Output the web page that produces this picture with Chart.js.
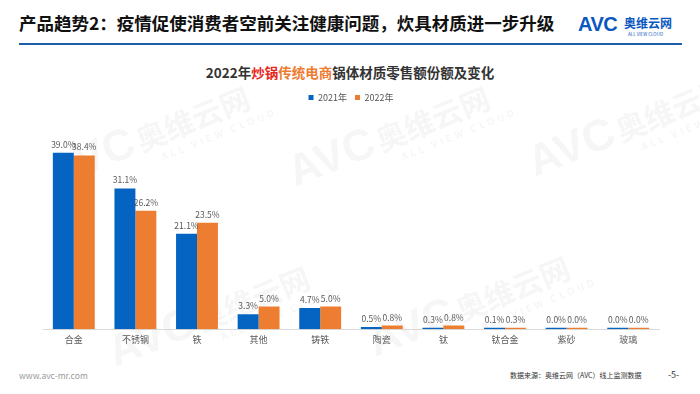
<!DOCTYPE html>
<html>
<head>
<meta charset="utf-8">
<script src="https://cdn.jsdelivr.net/npm/chart.js@4.4.0/dist/chart.umd.min.js"></script>
<style>
  body { margin: 0; background: #fff; font-family: "Noto Sans CJK SC", "Noto Sans", sans-serif; }
  #page { position: relative; width: 700px; height: 394px; overflow: hidden; background: #fff; }
  #head { position: absolute; left: 19px; top: 10px; font-size: 17.5px; font-weight: bold; color: #111; }
  #rule { position: absolute; left: 19px; top: 43px; width: 663px; height: 2px; background: #1F5FA9; }
  #logo { position: absolute; left: 578px; top: 12px; }
  #logo .avc { font: bold 20px "Liberation Sans", sans-serif; color: #0B57C0; letter-spacing: -0.5px; }
  #logo .cn { position: absolute; left: 46px; top: 2px; font-size: 12px; font-weight: bold; color: #0B57C0; white-space: nowrap; }
  #logo .en { position: absolute; left: 50px; top: 19px; font-size: 4.5px; color: #0B57C0; white-space: nowrap; }
  #title { position: absolute; left: 0; width: 700px; top: 62px; text-align: center; font-size: 13.5px; font-weight: bold; color: #333; }
  #title .r { color: #E8261C; }
  #title .o { color: #EE7B30; }
  #chartBox { position: absolute; left: 0; top: 85px; width: 700px; height: 265px; }
  #url { position: absolute; left: 19px; top: 369px; font-size: 8.5px; color: #999; }
  #src { position: absolute; left: 510px; top: 370px; font-size: 7px; color: #333; }
  #pg { position: absolute; left: 668px; top: 368px; font-size: 9px; color: #333; }
  .wm { position: absolute; transform: rotate(-22deg); transform-origin: left top; color: rgba(120,120,120,0.08); white-space: nowrap; pointer-events: none; }
  .wm .big { font: bold 44px "Liberation Sans", sans-serif; }
  .wm .cn { font-size: 30px; font-weight: bold; }
  .wm .en { font-size: 10px; font-weight: bold; letter-spacing: 3px; display: block; margin-left: 110px; margin-top: -6px; }
</style>
</head>
<body>
<div id="page">
  <div id="head">产品趋势2：疫情促使消费者空前关注健康问题，炊具材质进一步升级</div>
  <div id="rule"></div>
  <div id="logo"><span class="avc">AVC</span><span class="cn">奥维云网</span><span class="en">ALL VIEW CLOUD</span></div>
  <div id="title">2022年<span class="r">炒锅</span><span class="o">传统电商</span>锅体材质零售额份额及变化</div>

  <div class="wm" style="left:40px; top:150px;"><span class="big">AVC</span> <span class="cn">奥维云网</span><span class="en">ALL VIEW CLOUD</span></div>
  <div class="wm" style="left:280px; top:150px;"><span class="big">AVC</span> <span class="cn">奥维云网</span><span class="en">ALL VIEW CLOUD</span></div>
  <div class="wm" style="left:520px; top:140px;"><span class="big">AVC</span> <span class="cn">奥维云网</span><span class="en">ALL VIEW CLOUD</span></div>
  <div class="wm" style="left:100px; top:330px;"><span class="big">AVC</span> <span class="cn">奥维云网</span><span class="en">ALL VIEW CLOUD</span></div>
  <div class="wm" style="left:360px; top:320px;"><span class="big">AVC</span> <span class="cn">奥维云网</span><span class="en">ALL VIEW CLOUD</span></div>

  <div id="chartBox"><canvas id="barChart"></canvas></div>

  <div id="url">www.avc-mr.com</div>
  <div id="src">数据来源：奥维云网（AVC）线上监测数据</div>
  <div id="pg">-5-</div>
</div>
<script>
// Categories and shares (%)
const materials = ['合金', '不锈钢', '铁', '其他', '铸铁', '陶瓷', '钛', '钛合金', '紫砂', '玻璃'];
const share2021 = [39.0, 31.1, 21.1, 3.3, 4.7, 0.5, 0.3, 0.1, 0.0, 0.0];
const share2022 = [38.4, 26.2, 23.5, 5.0, 5.0, 0.8, 0.8, 0.3, 0.0, 0.0];
const seriesNames = ['2021年', '2022年'];

// Draw the value above every bar
const valueLabels = {
    id: 'valueLabels',
    afterDatasetsDraw(chart) {
        const ctx = chart.ctx;
        ctx.save();
        ctx.font = '8.5px "Noto Sans CJK SC", sans-serif';
        ctx.fillStyle = '#595959';
        ctx.textAlign = 'center';
        ctx.textBaseline = 'bottom';
        chart.data.datasets.forEach((ds, i) => {
            chart.getDatasetMeta(i).data.forEach((bar, j) => {
                ctx.fillText(ds.data[j].toFixed(1) + '%', bar.x, bar.y - 4);
            });
        });
        ctx.restore();
    }
};

document.addEventListener('DOMContentLoaded', function() {
    const ctx = document.getElementById('barChart').getContext('2d');
    new Chart(ctx, {
        type: 'bar',
        data: {
            labels: materials,
            datasets: [{
                label: seriesNames[0],
                data: share2021,
                backgroundColor: '#0563C1',
                minBarLength: 1.5
            }, {
                label: seriesNames[1],
                data: share2022,
                backgroundColor: '#ED7D31',
                minBarLength: 1.5
            }]
        },
        options: {
            responsive: true,
            maintainAspectRatio: false,
            animation: false,
            layout: { padding: { left: 43, right: 41, top: 0, bottom: 0 } },
            datasets: { bar: { barPercentage: 1, categoryPercentage: 0.68 } },
            plugins: {
                legend: {
                    position: 'top',
                    labels: {
                        boxWidth: 5, boxHeight: 5, padding: 8,
                        color: '#555',
                        font: { size: 9, family: '"Noto Sans CJK SC", sans-serif' }
                    }
                },
                tooltip: { enabled: false }
            },
            scales: {
                x: {
                    grid: { display: false, drawTicks: false },
                    border: { color: '#d9d9d9' },
                    ticks: { color: '#595959', padding: 5, font: { size: 9, family: '"Noto Sans CJK SC", sans-serif' } }
                },
                y: {
                    display: false,
                    min: 0,
                    max: 48
                }
            }
        },
        plugins: [valueLabels]
    });
});
</script>
</body>
</html>
